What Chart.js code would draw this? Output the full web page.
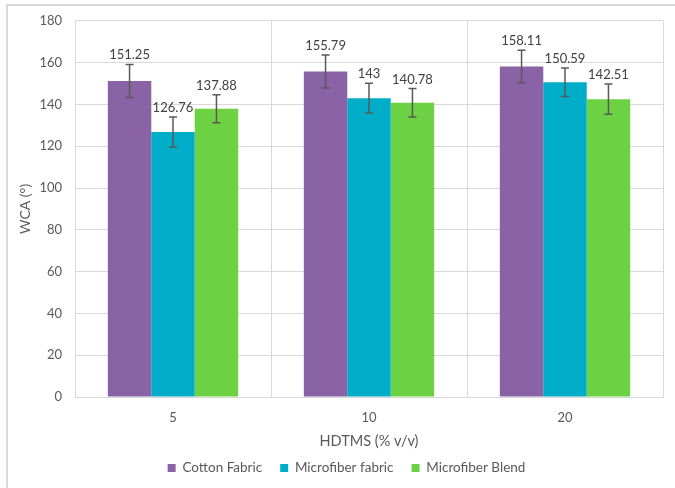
<!DOCTYPE html>
<html>
<head>
<meta charset="utf-8">
<script src="https://cdn.jsdelivr.net/npm/chart.js@4/dist/chart.umd.min.js"></script>
<style>
  html, body { margin: 0; padding: 0; background: #ffffff; }
  #wrap { width: 675px; height: 488px; position: relative; }
</style>
</head>
<body>
<div id="wrap"><canvas id="c" width="675" height="488"></canvas></div>
<script>
// HDTMS concentration groups
const categories = ['5', '10', '20'];

// Water contact angle (degrees) per fabric
const cottonFabric = [151.25, 155.79, 158.11];
const microfiberFabric = [126.76, 143, 150.59];
const microfiberBlend = [137.88, 140.78, 142.51];

// Standard deviations (± error bars)
const cottonErr = [7.9, 7.9, 7.8];
const microfiberErr = [7.2, 7.1, 6.8];
const blendErr = [6.7, 6.8, 7.2];

const yTicks = [0, 20, 40, 60, 80, 100, 120, 140, 160, 180];

const FONT = 'Lato, "Open Sans", sans-serif';
const TEXT = '#595959';
const GRID = '#d9d9d9';

// Light frame along the top and left edges of the figure
const framePlugin = {
  id: 'frame',
  beforeDraw(chart) {
    const ctx = chart.ctx;
    ctx.save();
    ctx.strokeStyle = '#d9d9d9';
    ctx.lineWidth = 2;
    ctx.beginPath();
    ctx.moveTo(7, 488);
    ctx.lineTo(7, 5);
    ctx.lineTo(675, 5);
    ctx.stroke();
    ctx.restore();
  }
};

// Error bars plus value labels above each bar
const errorBarPlugin = {
  id: 'errorBars',
  afterDatasetsDraw(chart) {
    const ctx = chart.ctx;
    const y = chart.scales.y;
    chart.data.datasets.forEach((ds, di) => {
      const meta = chart.getDatasetMeta(di);
      meta.data.forEach((bar, i) => {
        const v = ds.data[i];
        const e = ds.errors[i];
        const yTop = y.getPixelForValue(v + e);
        const yBot = y.getPixelForValue(v - e);
        const x = bar.x;
        ctx.save();
        ctx.strokeStyle = '#595959';
        ctx.lineWidth = 1.5;
        ctx.beginPath();
        ctx.moveTo(x, yTop); ctx.lineTo(x, yBot);
        ctx.moveTo(x - 4, yTop); ctx.lineTo(x + 4, yTop);
        ctx.moveTo(x - 4, yBot); ctx.lineTo(x + 4, yBot);
        ctx.stroke();
        ctx.fillStyle = '#404040';
        ctx.font = '13px ' + FONT;
        ctx.textAlign = 'center';
        ctx.textBaseline = 'alphabetic';
        ctx.fillText(String(v), x, yTop - 5);
        ctx.restore();
      });
    });
  }
};

new Chart(document.getElementById('c'), {
  type: 'bar',
  data: {
    labels: categories,
    datasets: [
      { label: 'Cotton Fabric', data: cottonFabric, errors: cottonErr, backgroundColor: '#8A63A6' },
      { label: 'Microfiber fabric', data: microfiberFabric, errors: microfiberErr, backgroundColor: '#00ADC8' },
      { label: 'Microfiber Blend', data: microfiberBlend, errors: blendErr, backgroundColor: '#6CD143' }
    ]
  },
  options: {
    responsive: false,
    animation: false,
    devicePixelRatio: 1,
    layout: { padding: { left: 30, top: 20, right: 12, bottom: 3.25 } },
    datasets: { bar: { categoryPercentage: 0.665, barPercentage: 1.0 } },
    plugins: {
      legend: {
        position: 'bottom',
        labels: {
          boxWidth: 8, boxHeight: 8, padding: 18,
          color: TEXT, font: { family: FONT, size: 13.5 }
        }
      },
      tooltip: { enabled: false }
    },
    scales: {
      x: {
        afterFit(scale) { scale.height = 46.25; },
        grid: { color: GRID, lineWidth: 1, offset: true, drawTicks: false },
        border: { color: GRID, width: 1 },
        ticks: { color: TEXT, font: { family: FONT, size: 13 }, padding: 13 },
        title: { display: true, text: 'HDTMS (% v/v)', color: TEXT, font: { family: FONT, size: 14.5 }, padding: { top: 0, bottom: -6.5 } }
      },
      y: {
        min: 0, max: 180,
        afterBuildTicks(scale) { scale.ticks = yTicks.map(v => ({ value: v })); },
        afterFit(scale) { scale.width = 45; },
        grid: { color: GRID, lineWidth: 1, drawTicks: false },
        border: { color: GRID, width: 1 },
        ticks: { color: TEXT, font: { family: FONT, size: 13 }, padding: 13 },
        title: { display: true, text: 'WCA (°)', color: TEXT, font: { family: FONT, size: 14 }, padding: { top: -13, bottom: 0 } }
      }
    }
  },
  plugins: [framePlugin, errorBarPlugin]
});
</script>
</body>
</html>
